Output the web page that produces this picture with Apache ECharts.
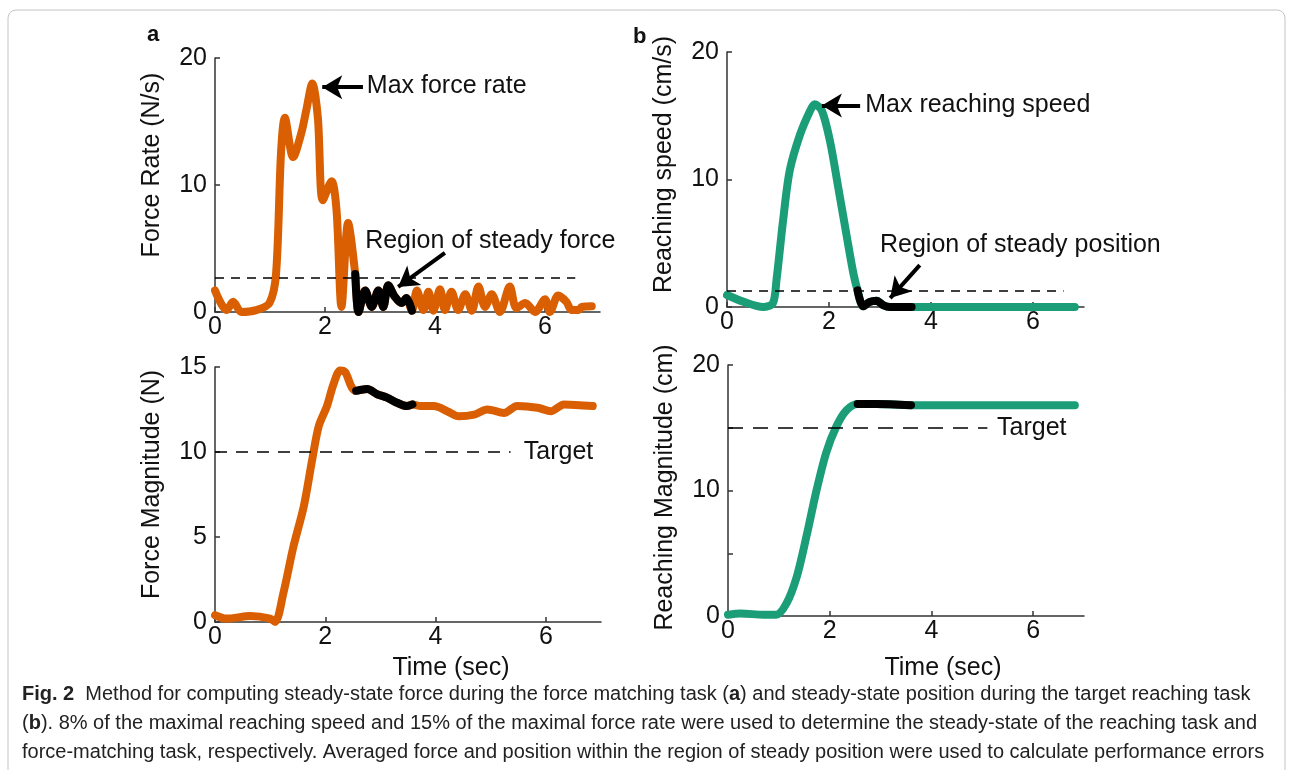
<!DOCTYPE html>
<html>
<head>
<meta charset="utf-8">
<script src="https://cdn.jsdelivr.net/npm/echarts@6/dist/echarts.min.js"></script>
<style>
  html, body { margin: 0; padding: 0; background: #fff; }
  #chart { width: 1293px; height: 770px; }
</style>
</head>
<body>
<div id="chart"></div>
<script>
// (a) force rate, N/s
const rateT = [0, 0.21, 0.33, 0.48, 0.75, 0.99, 1.11, 1.20, 1.27, 1.42, 1.57, 1.66, 1.77, 1.87, 1.96, 2.12, 2.21, 2.30, 2.42, 2.55];
const rateV = [1.7, 0.15, 0.8, 0, 0.15, 0.7, 3.0, 12.5, 15.3, 12.2, 14.1, 15.9, 18.0, 15.3, 8.8, 10.3, 8.0, 0.4, 7.0, 3.0];
const rateSteadyT = [2.55, 2.61, 2.73, 2.85, 2.97, 3.06, 3.15, 3.27, 3.39, 3.48, 3.58];
const rateSteadyV = [3.0, 0, 1.7, 0.4, 1.7, 0.4, 2.1, 1.2, 0.7, 1.1, 0.1];
const rateTailT = [3.58, 3.67, 3.79, 3.88, 3.97, 4.09, 4.18, 4.30, 4.42, 4.55, 4.67, 4.79, 4.91, 5.03, 5.18, 5.36, 5.48, 5.64, 5.82, 6.00, 6.09, 6.24, 6.39, 6.48, 6.61, 6.67, 6.85];
const rateTailV = [0.1, 1.7, 0.15, 1.6, 0.1, 1.8, 0.15, 1.6, 0.15, 1.4, 0.1, 2.0, 0.4, 1.4, 0, 2.0, 0.3, 0.7, 0, 1.0, 0, 1.3, 0.8, 0.15, 0.15, 0.4, 0.45];
const rateThreshold = 2.7;

// (a) force magnitude, N
const forceT = [0, 0.21, 0.64, 1.0, 1.09, 1.24, 1.42, 1.61, 1.76, 1.88, 2.03, 2.15, 2.27, 2.36, 2.48, 2.56];
const forceV = [0.4, 0.2, 0.35, 0.2, 0, 1.7, 4.4, 6.8, 9.5, 11.5, 12.7, 14.0, 14.8, 14.7, 13.8, 13.6];
const forceSteadyT = [2.56, 2.76, 2.94, 3.12, 3.30, 3.48, 3.58];
const forceSteadyV = [13.6, 13.7, 13.4, 13.2, 12.9, 12.7, 12.8];
const forceTailT = [3.58, 3.73, 3.97, 4.21, 4.42, 4.70, 4.94, 5.24, 5.48, 5.85, 6.09, 6.33, 6.85];
const forceTailV = [12.8, 12.7, 12.7, 12.4, 12.1, 12.2, 12.5, 12.3, 12.7, 12.6, 12.4, 12.8, 12.7];
const forceTarget = 10;

// (b) reaching speed, cm/s
const speedT = [0, 0.33, 0.71, 0.90, 0.97, 1.10, 1.23, 1.43, 1.63, 1.72, 1.86, 2.02, 2.18, 2.35, 2.48, 2.56];
const speedV = [0.94, 0.4, 0, 0.3, 2.1, 6.8, 10.7, 13.5, 15.4, 15.9, 15.4, 13.0, 9.4, 5.5, 2.6, 1.3];
const speedSteadyT = [2.56, 2.67, 2.80, 2.93, 3.06, 3.20, 3.62];
const speedSteadyV = [1.3, 0.05, 0.4, 0.5, 0.15, 0, 0];
const speedTailT = [3.62, 6.82];
const speedTailV = [0, 0];
const speedThreshold = 1.3;

// (b) reaching magnitude, cm
const reachT = [0, 0.25, 0.70, 0.95, 1.15, 1.35, 1.54, 1.74, 1.93, 2.13, 2.33, 2.55];
const reachV = [0.1, 0.2, 0.1, 0.1, 1.0, 3.1, 6.3, 10.0, 13.0, 15.1, 16.4, 16.9];
const reachSteadyT = [2.55, 2.91, 3.60];
const reachSteadyV = [16.9, 16.9, 16.8];
const reachTailT = [3.60, 6.82];
const reachTailV = [16.8, 16.8];
const reachTarget = 15;

const xTicks = { min: 0, max: 7, interval: 2 };

const ORANGE = '#D95F02';
const GREEN = '#1B9E77';
const FONT = 'Liberation Sans, Arial, sans-serif';
const FS = 25;

function zip(t, v) {
    return t.map((x, i) => [x, v[i]]);
}

let chart = echarts.init(document.getElementById('chart'));

function xAxisOf(grid, gap, namePad) {
    return {
        type: 'value', gridIndex: grid,
        min: xTicks.min, max: xTicks.max, interval: xTicks.interval,
        name: gap == null ? '' : 'Time (sec)',
        nameLocation: 'middle', nameGap: gap || 0,
        nameTextStyle: { fontFamily: FONT, fontSize: FS, color: '#111', padding: [0, 0, 0, namePad || 0] },
        splitLine: { show: false },
        axisLine: { lineStyle: { color: '#333', width: 1.5 } },
        axisTick: { inside: true, length: 5, lineStyle: { color: '#333', width: 1.5 } },
        axisLabel: { fontFamily: FONT, fontSize: FS, color: '#111', margin: 3, showMaxLabel: false }
    };
}

function yAxisOf(grid, name, max, interval, labelEvery, namePad) {
    return {
        type: 'value', gridIndex: grid,
        min: 0, max: max, interval: interval,
        name: name, nameLocation: 'middle', nameGap: 50, nameRotate: 90,
        nameTextStyle: { fontFamily: FONT, fontSize: FS, color: '#111', padding: namePad },
        splitLine: { show: false },
        axisLine: { lineStyle: { color: '#333', width: 1.5 } },
        axisTick: { inside: true, length: 5, lineStyle: { color: '#333', width: 1.5 } },
        axisLabel: {
            fontFamily: FONT, fontSize: FS, color: '#111', margin: 8,
            formatter: v => (v % labelEvery === 0 ? String(v) : '')
        }
    };
}

function curve(idx, data, color) {
    return {
        type: 'line', xAxisIndex: idx, yAxisIndex: idx,
        data: data, showSymbol: false, smooth: 0.3, clip: false,
        lineStyle: { color: color, width: 8, cap: 'round', join: 'round' },
        z: 2
    };
}

function arrow(from, to) {
    return [
        { coord: from, symbol: 'none' },
        { coord: to, symbol: 'arrow', symbolSize: [18, 20], lineStyle: { color: '#000', width: 4, type: 'solid' } }
    ];
}

function dashed(y, x2, dash) {
    return [
        { coord: [0, y], symbol: 'none' },
        { coord: [x2, y], symbol: 'none', lineStyle: { color: '#000', width: 1.6, type: dash } }
    ];
}

function note(coord, text) {
    return {
        coord: coord, symbol: 'circle', symbolSize: 0,
        label: { show: true, position: 'right', distance: 0, formatter: text, fontFamily: FONT, fontSize: FS, color: '#111' }
    };
}

function steady(idx, data, lines, notes) {
    let s = curve(idx, data, '#000');
    s.z = 3;
    s.markLine = { silent: true, animation: false, label: { show: false }, data: lines };
    s.markPoint = { silent: true, animation: false, data: notes };
    return s;
}

const capFont = '20px ' + FONT;
const capBold = 'bold 20px ' + FONT;

let option = {
    animation: false,
    grid: [
        { left: 215, top: 58, width: 385, height: 254 },
        { left: 215, top: 367, width: 386, height: 255 },
        { left: 727, top: 52, width: 357, height: 255 },
        { left: 728, top: 365, width: 356, height: 251 }
    ],
    xAxis: [
        xAxisOf(0),
        xAxisOf(1, 34, 86),
        xAxisOf(2),
        xAxisOf(3, 40, 74)
    ],
    yAxis: [
        yAxisOf(0, 'Force Rate (N/s)', 20, 10, 10, [0, 0, 0, 40]),
        yAxisOf(1, 'Force Magnitude (N)', 15, 5, 5, [0, 0, 0, 20]),
        yAxisOf(2, 'Reaching speed (cm/s)', 20, 10, 10, [0, 0, 0, 30]),
        yAxisOf(3, 'Reaching Magnitude (cm)', 20, 5, 10, [0, 0, 0, 6])
    ],
    series: [
        curve(0, zip(rateT.concat(rateSteadyT.slice(1), rateTailT.slice(1)), rateV.concat(rateSteadyV.slice(1), rateTailV.slice(1))), ORANGE),
        steady(0, zip(rateSteadyT, rateSteadyV),
            [dashed(rateThreshold, 6.55, [9, 7]), arrow([2.69, 17.7], [1.95, 17.7]), arrow([4.18, 4.65], [3.33, 1.97])],
            [note([2.76, 17.8], 'Max force rate'), note([2.73, 5.6], 'Region of steady force')]),

        curve(1, zip(forceT.concat(forceSteadyT.slice(1), forceTailT.slice(1)), forceV.concat(forceSteadyV.slice(1), forceTailV.slice(1))), ORANGE),
        steady(1, zip(forceSteadyT, forceSteadyV),
            [dashed(forceTarget, 5.36, [12, 9])],
            [note([5.6, 10], 'Target')]),

        curve(2, zip(speedT.concat(speedSteadyT.slice(1), speedTailT.slice(1)), speedV.concat(speedSteadyV.slice(1), speedTailV.slice(1))), GREEN),
        steady(2, zip(speedSteadyT, speedSteadyV),
            [dashed(speedThreshold, 6.6, [9, 7]), arrow([2.61, 15.8], [1.86, 15.8]), arrow([3.78, 3.28], [3.2, 0.7])],
            [note([2.71, 15.8], 'Max reaching speed'), note([3.0, 4.84], 'Region of steady position')]),

        curve(3, zip(reachT.concat(reachSteadyT.slice(1), reachTailT.slice(1)), reachV.concat(reachSteadyV.slice(1), reachTailV.slice(1))), GREEN),
        steady(3, zip(reachSteadyT, reachSteadyV),
            [dashed(reachTarget, 5.1, [15, 10])],
            [note([5.29, 15], 'Target')])
    ],
    graphic: [
        { type: 'rect', shape: { x: 8, y: 10, width: 1277, height: 800, r: 8 }, style: { fill: 'none', stroke: '#c4c4c4', lineWidth: 1 }, silent: true },
        { type: 'text', left: 147, top: 24, style: { text: 'a', font: 'bold 22px ' + FONT, fill: '#111' } },
        { type: 'text', left: 633, top: 26, style: { text: 'b', font: 'bold 22px ' + FONT, fill: '#111' } },
        {
            type: 'text', left: 22, top: 684,
            style: {
                text: '{b|Fig. 2}  Method for computing steady-state force during the force matching task ({b|a}) and steady-state position during the target reaching task',
                font: capFont, fill: '#222', rich: { b: { font: capBold, fill: '#222' } }
            }
        },
        {
            type: 'text', left: 22, top: 713,
            style: {
                text: '({b|b}). 8% of the maximal reaching speed and 15% of the maximal force rate were used to determine the steady-state of the reaching task and',
                font: capFont, fill: '#222', rich: { b: { font: capBold, fill: '#222' } }
            }
        },
        {
            type: 'text', left: 22, top: 742,
            style: {
                text: 'force-matching task, respectively. Averaged force and position within the region of steady position were used to calculate performance errors',
                font: capFont, fill: '#222'
            }
        }
    ]
};

chart.setOption(option);
</script>
</body>
</html>
